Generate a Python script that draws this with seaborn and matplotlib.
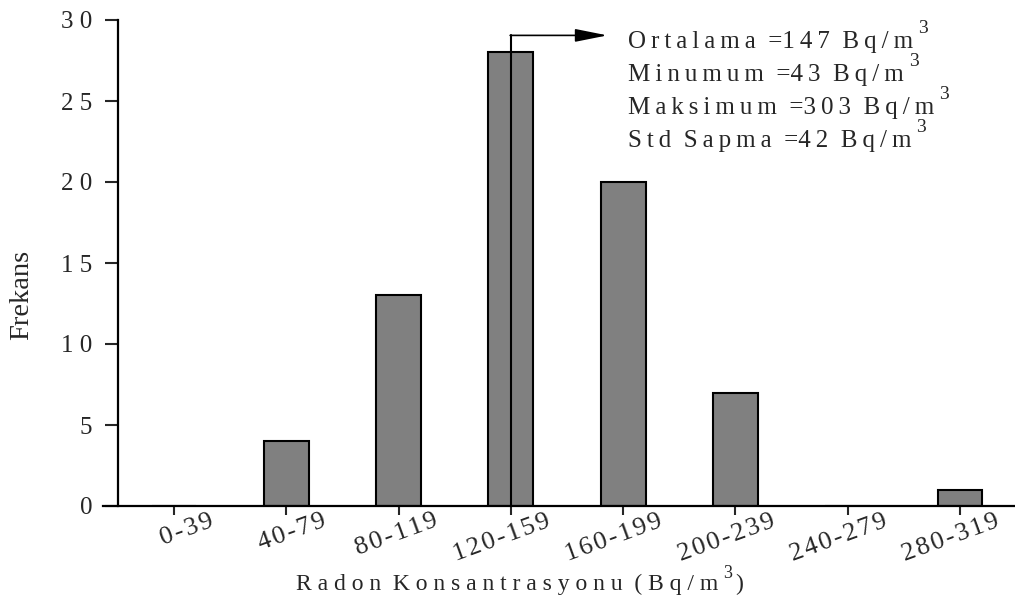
import matplotlib
matplotlib.use("Agg")
import matplotlib.pyplot as plt
import matplotlib.transforms as mtransforms
import seaborn as sns

# Radon concentration histogram (Bq/m3)
categories = ["0-39", "40-79", "80-119", "120-159", "160-199", "200-239", "240-279", "280-319"]
counts = [0, 4, 13, 28, 20, 7, 0, 1]
ytick_values = [0, 5, 10, 15, 20, 25, 30]
ytick_labels = ["0", "5", "1 0", "1 5", "2 0", "2 5", "3 0"]
mean_bin = "120-159"
stats_names = ["Ortalama", "Minumum", "Maksimum", "Std Sapma"]
stats_values = ["147", "43", "303", "42"]
unit = "Bq/m"

THIN = "\u2009"
HAIR = "\u200a"
W, H = 1015, 603


def tracked(s, sep=THIN, gap="  "):
    """Spread the letters of each word with narrow spaces."""
    return gap.join(sep.join(w) for w in s.split(" "))


sns.set_style("white")
plt.rcParams["font.family"] = ["Liberation Serif", "DejaVu Serif"]

fig = plt.figure(figsize=(W / 100, H / 100), dpi=100)
ax = fig.add_axes([103 / W, 97 / H, 912 / W, 486 / H])

sns.barplot(x=categories, y=counts, color="#808080", saturation=1,
            edgecolor="black", linewidth=1.5, width=0.4, ax=ax)

ax.set_xlim(-0.632, 7.49)
ax.set_ylim(0, 30)

for s in ("top", "right"):
    ax.spines[s].set_visible(False)
ax.spines["left"].set_position(("data", -0.5))
for s in ("left", "bottom"):
    ax.spines[s].set_linewidth(1.6)
    ax.spines[s].set_color("black")

ax.set_yticks(ytick_values)
ax.set_yticklabels(ytick_labels, fontsize=18)
ax.tick_params(axis="y", direction="out", length=9.5, width=1.5, pad=9, left=True)
ax.tick_params(axis="x", direction="out", length=6.5, width=1.5, bottom=True)

ax.set_xticks(range(len(categories)))
ax.set_xticklabels([tracked(c, HAIR) for c in categories], fontsize=19, rotation=20,
                   ha="right", va="top", rotation_mode="anchor")
shift = mtransforms.ScaledTranslation(35 / 100, 10 / 100, fig.dpi_scale_trans)
for lbl in ax.get_xticklabels():
    lbl.set_transform(lbl.get_transform() + shift)

ax.set_xlabel("")
ax.set_ylabel("")
fig.text(22 / W, 1 - 295 / H, "Frekans", fontsize=20.5,
         rotation=90, ha="center", va="center")

renderer = fig.canvas.get_renderer()


def text_with_sup(x_px, base_px, main, sup, size, sup_size, rise_px, tail="",
                  sup_gap=3):
    """Write text at a pixel baseline with a raised exponent after it."""
    t = fig.text(x_px / W, 1 - base_px / H, main, fontsize=size,
                 ha="left", va="baseline")
    x1 = t.get_window_extent(renderer).x1
    s = fig.text((x1 + sup_gap) / W, 1 - (base_px - rise_px) / H, sup,
                 fontsize=sup_size, ha="left", va="baseline")
    if tail:
        x2 = s.get_window_extent(renderer).x1
        fig.text((x2 + 3) / W, 1 - base_px / H, tail, fontsize=size,
                 ha="left", va="baseline")


# Axis title along the bottom
text_with_sup(296, 590, "R a d o n  K o n s a n t r a s y o n u  ( B q / m",
              "3", 17, 13, 12, tail=")", sup_gap=5)

# Mean marker line with arrow pointing to the statistics block
xm = categories.index(mean_bin)
ax.plot([xm, xm], [0, 29.05], color="black", lw=1.5, clip_on=False)
ax.annotate("", xy=(3.86, 29.05), xytext=(xm - 0.006, 29.05),
            arrowprops=dict(arrowstyle="-|>,head_length=1.1,head_width=0.22",
                            mutation_scale=18, lw=1.2, color="black",
                            shrinkA=0, shrinkB=0),
            annotation_clip=False)

baselines = [48, 81, 114, 147]
for name, val, by in zip(stats_names, stats_values, baselines):
    label = tracked(name) + "  =" + tracked(val) + "  " + tracked(unit)
    text_with_sup(628, by, label, "3", 18, 14, 15, sup_gap=5)

fig.savefig("out.png", dpi=100)
